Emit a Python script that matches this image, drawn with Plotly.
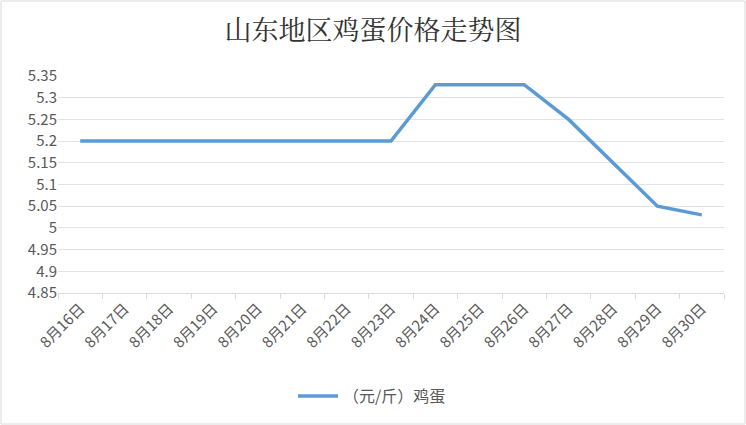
import plotly.graph_objects as go

dates = ["8月16日", "8月17日", "8月18日", "8月19日", "8月20日", "8月21日", "8月22日",
         "8月23日", "8月24日", "8月25日", "8月26日", "8月27日", "8月28日", "8月29日", "8月30日"]
prices = [5.2, 5.2, 5.2, 5.2, 5.2, 5.2, 5.2, 5.2, 5.33, 5.33, 5.33, 5.25, 5.15, 5.05, 5.03]
y_ticks = [4.85, 4.9, 4.95, 5, 5.05, 5.1, 5.15, 5.2, 5.25, 5.3, 5.35]
y_labels = ["4.85", "4.9", "4.95", "5", "5.05", "5.1", "5.15", "5.2", "5.25", "5.3", "5.35"]

W, H = 746, 425
L, R, T, B = 58, 22, 76, 132

fig = go.Figure()
fig.add_trace(go.Scatter(
    name="（元/斤）鸡蛋",
    x=dates,
    y=prices,
    mode="lines",
    line=dict(color="#5B9BD5", width=3.5),
))

fig.update_layout(
    width=W, height=H,
    margin=dict(l=L, r=R, t=T, b=B, autoexpand=False),
    paper_bgcolor="white",
    plot_bgcolor="white",
    font=dict(family="Noto Sans CJK SC, sans-serif", color="#595959", size=14),
    title=dict(text="山东地区鸡蛋价格走势图", x=0.5, xanchor="center",
               y=1 - 31 / H, yanchor="middle",
               font=dict(family="Noto Serif CJK SC, Noto Sans CJK SC, serif",
                         size=27, color="#333333")),
    showlegend=True,
    legend=dict(orientation="h", x=(372 - L) / (W - L - R), xanchor="center", yref="container",
                y=1 - 396 / H, yanchor="middle",
                font=dict(size=16, color="#595959"), itemwidth=40),
    xaxis=dict(
        type="category", range=[-0.5, 14.5], tickson="boundaries",
        ticks="outside", ticklen=5, tickcolor="#d9d9d9", automargin=False,
        showline=True, linecolor="#d9d9d9", linewidth=1,
        showgrid=False, tickangle=-45, tickfont=dict(size=15, color="#595959"),
    ),
    yaxis=dict(
        range=[4.85, 5.35], tickvals=y_ticks, ticktext=y_labels, automargin=False,
        showgrid=True, gridcolor="#e3e3e3", gridwidth=1, zeroline=False,
        showline=False, tickfont=dict(size=15, color="#595959"),
    ),
    shapes=[dict(type="rect", xref="paper", yref="paper",
                 x0=-(L - 1) / (W - L - R), x1=1 + (R - 1) / (W - L - R),
                 y0=-(B - 1) / (H - T - B), y1=1 + (T - 1) / (H - T - B),
                 line=dict(color="#d9d9d9", width=1), layer="below")],
)

# drop the browser's default 8px body margin so the chart fills the window
fig.write_html("out.html", config={"displayModeBar": False},
               post_script="document.body.style.margin='0';")
